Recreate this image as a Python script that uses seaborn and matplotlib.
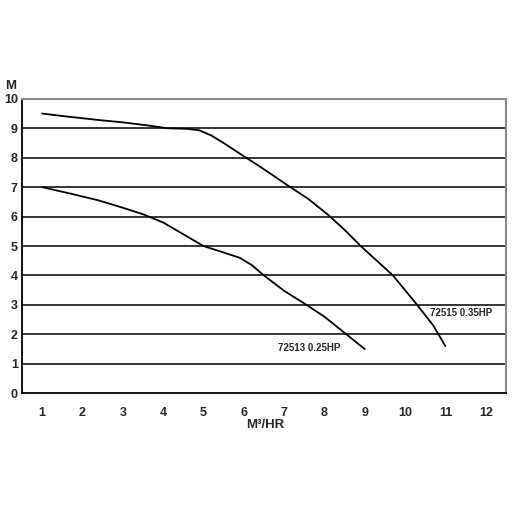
import matplotlib
matplotlib.use("Agg")
import matplotlib.pyplot as plt
import seaborn as sns
import pandas as pd

# flow (M3/HR) vs head (M)
flow_72515 = [1.0, 1.6, 2.4, 3.0, 3.6, 4.1, 4.6, 4.9, 5.2, 5.5, 6.0, 6.4, 7.1, 7.6, 8.1, 8.5, 8.9, 9.7, 10.3, 10.7, 11.0]
head_72515 = [9.5, 9.4, 9.28, 9.2, 9.1, 9.0, 8.98, 8.93, 8.75, 8.5, 8.05, 7.7, 7.05, 6.6, 6.05, 5.55, 5.0, 4.0, 3.0, 2.3, 1.6]
flow_72513 = [1.0, 1.7, 2.4, 3.0, 3.5, 4.0, 4.5, 5.0, 5.5, 5.9, 6.2, 6.5, 7.0, 7.5, 8.0, 8.5, 9.0]
head_72513 = [7.0, 6.78, 6.55, 6.3, 6.08, 5.8, 5.4, 5.0, 4.78, 4.6, 4.35, 4.0, 3.48, 3.05, 2.6, 2.05, 1.5]
x_ticks = list(range(1, 13))
y_ticks = list(range(0, 11))

df = pd.concat([
    pd.DataFrame({"flow": flow_72515, "head": head_72515, "model": "72515 0.35HP"}),
    pd.DataFrame({"flow": flow_72513, "head": head_72513, "model": "72513 0.25HP"}),
])

sns.set_style("white")
plt.rcParams["font.family"] = ["Liberation Sans", "DejaVu Sans"]

fig = plt.figure(figsize=(5.12, 5.12), dpi=100)
ax = fig.add_axes([0.043, 0.232, 0.945, 0.575])

# horizontal grid lines at each metre
for y in y_ticks[1:-1]:
    ax.axhline(y, color="black", lw=1.1, zorder=1)

sns.lineplot(data=df, x="flow", y="head", units="model", estimator=None,
             color="black", lw=1.3, sort=False, ax=ax, zorder=3)

ax.set_xlim(0.5, 12.5)
ax.set_ylim(0, 10)
ax.set_yticks(y_ticks)
ax.set_yticklabels([str(v) for v in y_ticks], fontsize=9, fontweight="bold")
ax.set_xticks(x_ticks)
ax.set_xticklabels([str(v) for v in x_ticks], fontsize=9, fontweight="bold")
ax.tick_params(axis="x", length=0, pad=10)
ax.tick_params(axis="y", length=0, pad=3)
# small inward tick marks between categories
ax.set_xticks([v + 0.5 for v in x_ticks[:-1]], minor=True)
ax.tick_params(axis="x", which="minor", direction="in", length=4, width=1.2, color="black")

for side in ["left", "bottom"]:
    ax.spines[side].set_color("black")
    ax.spines[side].set_linewidth(1.3)
for side in ["top", "right"]:
    ax.spines[side].set_color("#888888")
    ax.spines[side].set_linewidth(1.5)

ax.set_xlabel("")
ax.set_ylabel("")
fig.text(265 / 512, 1 - 425 / 512, "M³/HR", ha="center", va="center",
         fontsize=9.5, fontweight="bold")
fig.text(11 / 512, 1 - 86 / 512, "M", ha="center", va="center",
         fontsize=9.5, fontweight="bold")

ax.text(11.4, 2.72, "72515 0.35HP", ha="center", va="center", fontsize=7, fontweight="bold")
ax.text(7.62, 1.53, "72513 0.25HP", ha="center", va="center", fontsize=7, fontweight="bold")

plt.savefig("out.png", dpi=100)
